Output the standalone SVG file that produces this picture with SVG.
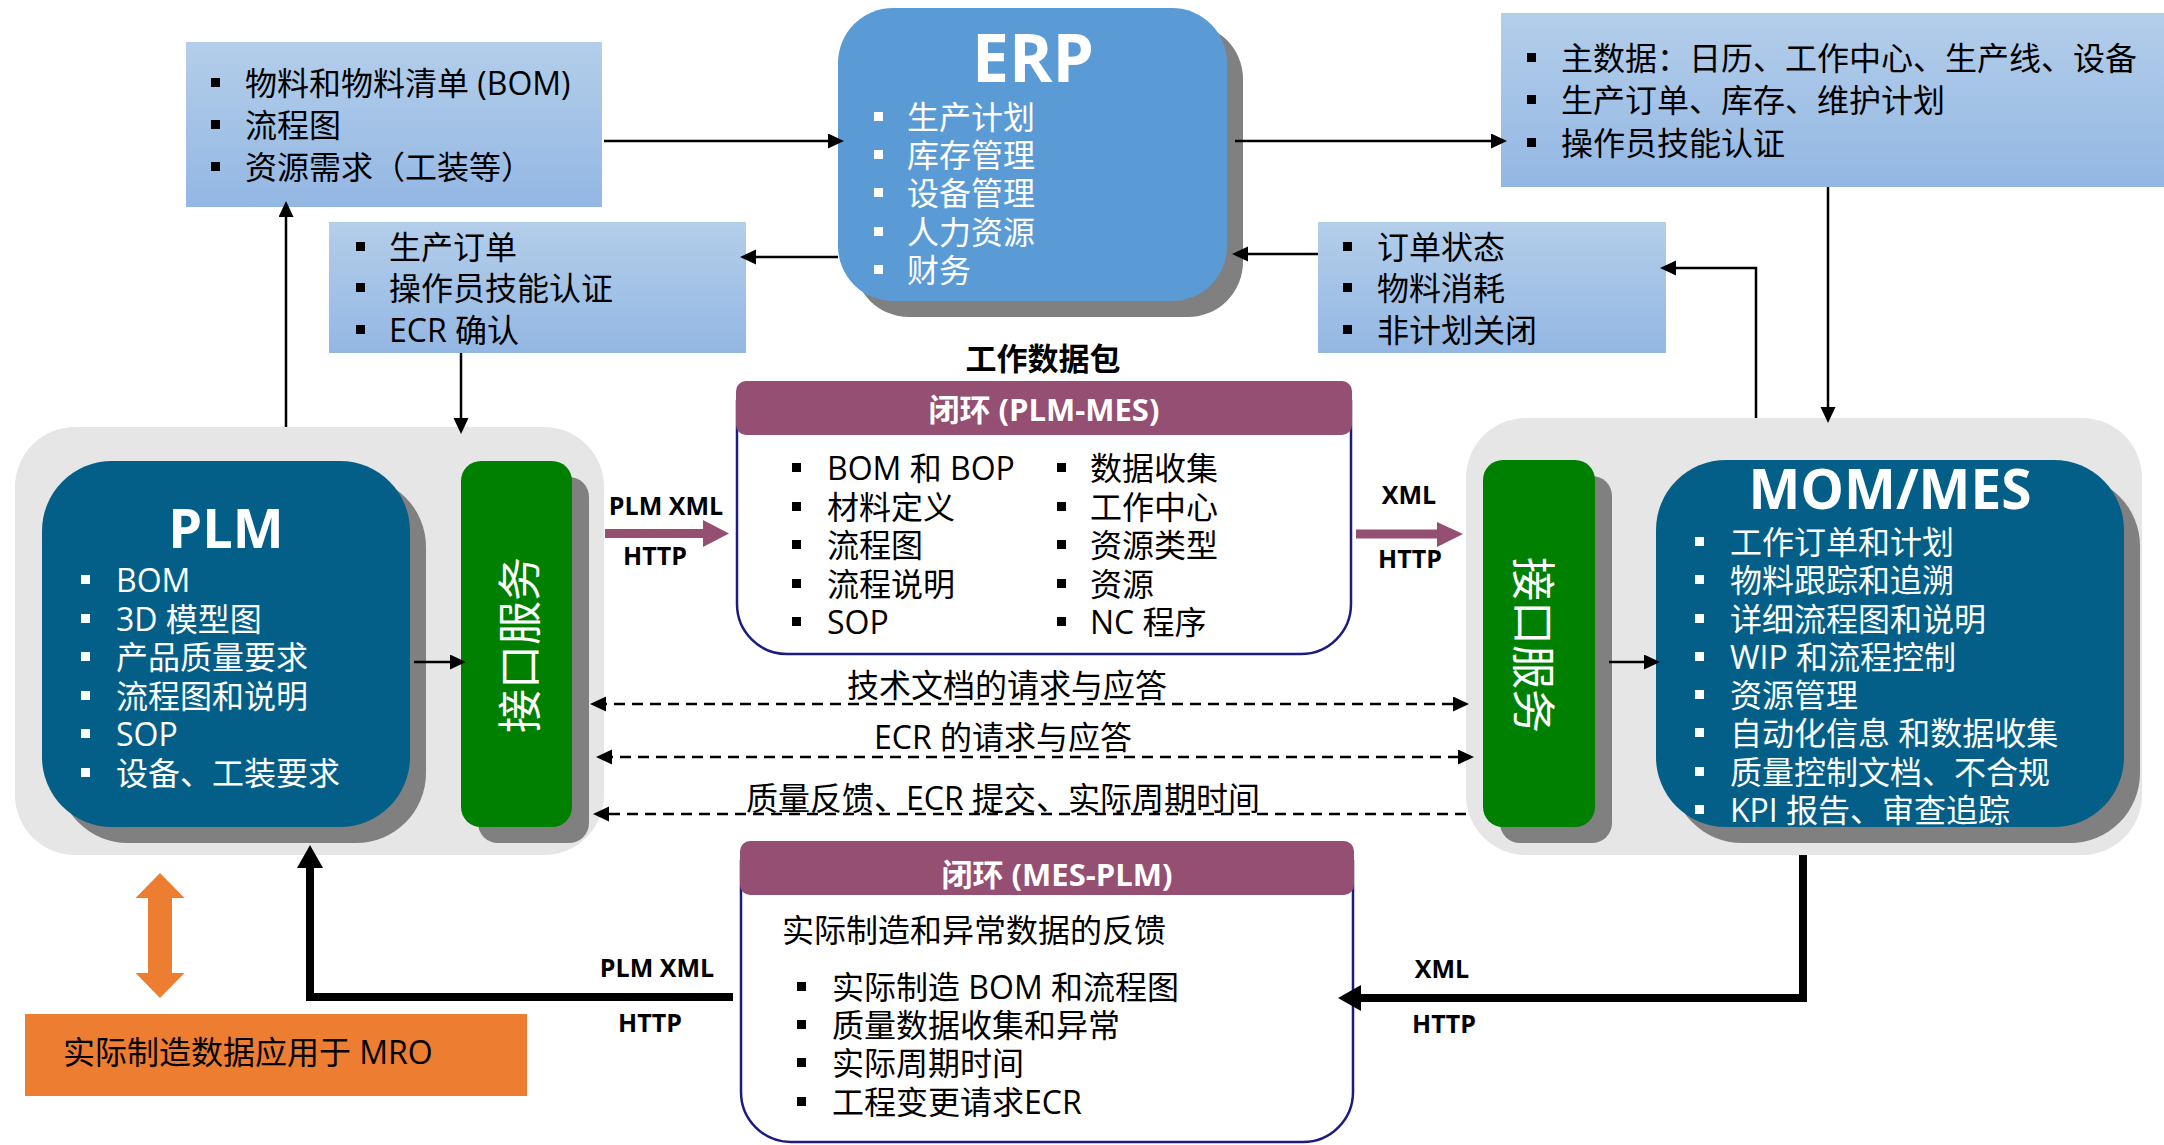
<svg xmlns="http://www.w3.org/2000/svg" width="2164" height="1145" viewBox="0 0 2164 1145">
<defs>
  <linearGradient id="lb" x1="0" y1="0" x2="0" y2="1">
    <stop offset="0" stop-color="#B4CEEA"/>
    <stop offset="1" stop-color="#93B7E3"/>
  </linearGradient>
  <marker id="ah" markerUnits="userSpaceOnUse" markerWidth="17" markerHeight="16" refX="10" refY="7.5" orient="auto-start-reverse">
    <path d="M0,0 L16,7.5 L0,15 z" fill="#000"/>
  </marker>
  <marker id="aht" markerUnits="userSpaceOnUse" markerWidth="24" markerHeight="27" refX="11" refY="13" orient="auto">
    <path d="M0,0 L23,13 L0,26 z" fill="#000"/>
  </marker>
</defs>
<style>
  .t{font-family:"Open Sans","Noto Sans CJK SC",sans-serif;font-size:32px;fill:#000}
  .w{fill:#fff}
  .ttl{font-family:"Open Sans","Noto Sans CJK SC",sans-serif;font-weight:bold;fill:#fff;text-anchor:middle}
  .hd{font-family:"Open Sans","Noto Sans CJK SC",sans-serif;font-weight:bold;font-size:31px;fill:#fff;text-anchor:middle}
  .lbl{font-family:"Open Sans","Noto Sans CJK SC",sans-serif;font-weight:bold;font-size:25px;fill:#000;text-anchor:middle}
  .pkt{font-family:"Noto Sans CJK SC",sans-serif;font-weight:bold;font-size:31px;fill:#000;text-anchor:middle}
  .mid{text-anchor:middle}
  .ln{stroke:#000;stroke-width:2.5;fill:none}
  .dash{stroke-dasharray:11 7}
  .thick{stroke:#000;stroke-width:8;fill:none}
  .bk{fill:#000}
  .bw{fill:#fff}
  .sh{fill:#808080}
  .cont{fill:#E6E6E6}
  .dark{fill:#045F88}
  .green{fill:#008000}
  .lblue{fill:url(#lb)}
  .hdr{fill:#944F72}
  .pkg{fill:#fff;stroke:#1B1B80;stroke-width:2.5}
  .vt{font-family:"Noto Sans CJK SC",sans-serif;font-size:44px;fill:#fff;text-anchor:middle;dominant-baseline:central}
</style>

<!-- containers -->
<g id="container-plm">
  <rect class="cont" x="15" y="427" width="589" height="428" rx="60"/>
</g>
<g id="container-mom">
  <rect class="cont" x="1466" y="418" width="676" height="437" rx="60"/>
</g>

<!-- ERP -->
<g id="node-erp">
  <rect class="sh" x="854" y="24" width="389" height="293" rx="55"/>
  <rect x="838" y="8" width="389" height="293" rx="55" fill="#5B9BD5"/>
  <text class="ttl" x="1033" y="82" font-size="66">ERP</text>
  <rect class="bw" x="874" y="112" width="9" height="9"/>
  <rect class="bw" x="874" y="150" width="9" height="9"/>
  <rect class="bw" x="874" y="188" width="9" height="9"/>
  <rect class="bw" x="874" y="227" width="9" height="9"/>
  <rect class="bw" x="874" y="265" width="9" height="9"/>
  <text class="t w" x="907" y="129">生产计划</text>
  <text class="t w" x="907" y="167">库存管理</text>
  <text class="t w" x="907" y="205">设备管理</text>
  <text class="t w" x="907" y="244">人力资源</text>
  <text class="t w" x="907" y="282">财务</text>
</g>

<!-- top-left box -->
<g id="node-plm-to-erp">
  <rect class="lblue" x="186" y="42" width="416" height="165"/>
  <rect class="bk" x="211" y="78" width="9" height="9"/>
  <rect class="bk" x="211" y="120" width="9" height="9"/>
  <rect class="bk" x="211" y="162" width="9" height="9"/>
  <text class="t" x="245" y="95">物料和物料清单 (BOM)</text>
  <text class="t" x="245" y="137">流程图</text>
  <text class="t" x="245" y="179">资源需求（工装等）</text>
</g>

<!-- top-right box -->
<g id="node-erp-to-mes">
  <rect class="lblue" x="1501" y="13" width="663" height="174"/>
  <rect class="bk" x="1527" y="53" width="9" height="9"/>
  <rect class="bk" x="1527" y="95" width="9" height="9"/>
  <rect class="bk" x="1527" y="138" width="9" height="9"/>
  <text class="t" x="1561" y="70">主数据：日历、工作中心、生产线、设备</text>
  <text class="t" x="1561" y="112">生产订单、库存、维护计划</text>
  <text class="t" x="1561" y="155">操作员技能认证</text>
</g>

<!-- middle-left box -->
<g id="node-erp-to-plm">
  <rect class="lblue" x="329" y="222" width="417" height="131"/>
  <rect class="bk" x="356" y="242" width="9" height="9"/>
  <rect class="bk" x="356" y="283" width="9" height="9"/>
  <rect class="bk" x="356" y="325" width="9" height="9"/>
  <text class="t" x="389" y="259">生产订单</text>
  <text class="t" x="389" y="300">操作员技能认证</text>
  <text class="t" x="389" y="342">ECR 确认</text>
</g>

<!-- middle-right box -->
<g id="node-mes-to-erp">
  <rect class="lblue" x="1318" y="222" width="348" height="131"/>
  <rect class="bk" x="1343" y="242" width="9" height="9"/>
  <rect class="bk" x="1343" y="283" width="9" height="9"/>
  <rect class="bk" x="1343" y="325" width="9" height="9"/>
  <text class="t" x="1377" y="259">订单状态</text>
  <text class="t" x="1377" y="300">物料消耗</text>
  <text class="t" x="1377" y="342">非计划关闭</text>
</g>

<!-- PLM -->
<g id="node-plm">
  <rect class="sh" x="58" y="477" width="368" height="366" rx="70"/>
  <rect class="dark" x="42" y="461" width="368" height="366" rx="70"/>
  <text class="ttl" x="226" y="548" font-size="54">PLM</text>
  <rect class="bw" x="81" y="575" width="9" height="9"/>
  <rect class="bw" x="81" y="614" width="9" height="9"/>
  <rect class="bw" x="81" y="652" width="9" height="9"/>
  <rect class="bw" x="81" y="691" width="9" height="9"/>
  <rect class="bw" x="81" y="729" width="9" height="9"/>
  <rect class="bw" x="81" y="768" width="9" height="9"/>
  <text class="t w" x="116" y="592">BOM</text>
  <text class="t w" x="116" y="631">3D 模型图</text>
  <text class="t w" x="116" y="669">产品质量要求</text>
  <text class="t w" x="116" y="708">流程图和说明</text>
  <text class="t w" x="116" y="746">SOP</text>
  <text class="t w" x="116" y="785">设备、工装要求</text>
</g>

<!-- PLM interface -->
<g id="node-plm-interface">
  <rect class="sh" x="478" y="477" width="111" height="366" rx="20"/>
  <rect class="green" x="461" y="461" width="111" height="366" rx="20"/>
  <text class="vt" transform="translate(517,645) rotate(-90)">接口服务</text>
</g>

<!-- MES interface -->
<g id="node-mes-interface">
  <rect class="sh" x="1500" y="476" width="112" height="367" rx="20"/>
  <rect class="green" x="1483" y="460" width="112" height="367" rx="20"/>
  <text class="vt" transform="translate(1536,645) rotate(90)">接口服务</text>
</g>

<!-- MOM/MES -->
<g id="node-mom">
  <rect class="sh" x="1672" y="476" width="468" height="367" rx="70"/>
  <rect class="dark" x="1656" y="460" width="468" height="367" rx="70"/>
  <text class="ttl" x="1890" y="509" font-size="55">MOM/MES</text>
  <rect class="bw" x="1695" y="537" width="9" height="9"/>
  <rect class="bw" x="1695" y="575" width="9" height="9"/>
  <rect class="bw" x="1695" y="614" width="9" height="9"/>
  <rect class="bw" x="1695" y="652" width="9" height="9"/>
  <rect class="bw" x="1695" y="690" width="9" height="9"/>
  <rect class="bw" x="1695" y="728" width="9" height="9"/>
  <rect class="bw" x="1695" y="767" width="9" height="9"/>
  <rect class="bw" x="1695" y="805" width="9" height="9"/>
  <text class="t w" x="1730" y="554">工作订单和计划</text>
  <text class="t w" x="1730" y="592">物料跟踪和追溯</text>
  <text class="t w" x="1730" y="631">详细流程图和说明</text>
  <text class="t w" x="1730" y="669">WIP 和流程控制</text>
  <text class="t w" x="1730" y="707">资源管理</text>
  <text class="t w" x="1730" y="745">自动化信息 和数据收集</text>
  <text class="t w" x="1730" y="784">质量控制文档、不合规</text>
  <text class="t w" x="1730" y="822">KPI 报告、审查追踪</text>
</g>

<!-- Work package PLM-MES -->
<g id="node-pkg-plm-mes">
  <text class="pkt" x="1043" y="370">工作数据包</text>
  <path class="pkg" d="M737,400 V604 A50,50 0 0 0 787,654 H1301 A50,50 0 0 0 1351,604 V400"/>
  <rect class="hdr" x="736" y="381" width="616" height="54" rx="10"/>
  <text class="hd" x="1044" y="421">闭环 (PLM-MES)</text>
  <rect class="bk" x="792" y="463" width="9" height="9"/>
  <rect class="bk" x="792" y="502" width="9" height="9"/>
  <rect class="bk" x="792" y="540" width="9" height="9"/>
  <rect class="bk" x="792" y="579" width="9" height="9"/>
  <rect class="bk" x="792" y="617" width="9" height="9"/>
  <text class="t" x="827" y="480">BOM 和 BOP</text>
  <text class="t" x="827" y="519">材料定义</text>
  <text class="t" x="827" y="557">流程图</text>
  <text class="t" x="827" y="596">流程说明</text>
  <text class="t" x="827" y="634">SOP</text>
  <rect class="bk" x="1057" y="463" width="9" height="9"/>
  <rect class="bk" x="1057" y="502" width="9" height="9"/>
  <rect class="bk" x="1057" y="540" width="9" height="9"/>
  <rect class="bk" x="1057" y="579" width="9" height="9"/>
  <rect class="bk" x="1057" y="617" width="9" height="9"/>
  <text class="t" x="1090" y="480">数据收集</text>
  <text class="t" x="1090" y="519">工作中心</text>
  <text class="t" x="1090" y="557">资源类型</text>
  <text class="t" x="1090" y="596">资源</text>
  <text class="t" x="1090" y="634">NC 程序</text>
</g>

<!-- Closed loop MES-PLM -->
<g id="node-pkg-mes-plm">
  <path class="pkg" d="M741,860 V1092 A50,50 0 0 0 791,1142 H1303 A50,50 0 0 0 1353,1092 V860"/>
  <rect class="hdr" x="740" y="841" width="614" height="54" rx="10"/>
  <text class="hd" x="1057" y="886">闭环 (MES-PLM)</text>
  <text class="t" x="782" y="942">实际制造和异常数据的反馈</text>
  <rect class="bk" x="797" y="982" width="9" height="9"/>
  <rect class="bk" x="797" y="1020" width="9" height="9"/>
  <rect class="bk" x="797" y="1058" width="9" height="9"/>
  <rect class="bk" x="797" y="1097" width="9" height="9"/>
  <text class="t" x="832" y="999">实际制造 BOM 和流程图</text>
  <text class="t" x="832" y="1037">质量数据收集和异常</text>
  <text class="t" x="832" y="1075">实际周期时间</text>
  <text class="t" x="832" y="1114">工程变更请求ECR</text>
</g>

<!-- MRO -->
<g id="node-mro">
  <rect x="25" y="1014" width="502" height="82" fill="#ED7D31"/>
  <text class="t" x="63" y="1064">实际制造数据应用于 MRO</text>
</g>

<!-- connectors -->
<g id="connectors">
  <line class="ln" x1="604" y1="141" x2="838" y2="141" marker-end="url(#ah)"/>
  <line class="ln" x1="1235" y1="141" x2="1501" y2="141" marker-end="url(#ah)"/>
  <line class="ln" x1="838" y1="257" x2="746" y2="257" marker-end="url(#ah)"/>
  <line class="ln" x1="1318" y1="254" x2="1238" y2="254" marker-end="url(#ah)"/>
  <polyline class="ln" points="1756,418 1756,268 1666,268" marker-end="url(#ah)"/>
  <line class="ln" x1="1828" y1="187" x2="1828" y2="417" marker-end="url(#ah)"/>
  <line class="ln" x1="286" y1="427" x2="286" y2="207" marker-end="url(#ah)"/>
  <line class="ln" x1="461" y1="353" x2="461" y2="428" marker-end="url(#ah)"/>
  <line class="ln" x1="414" y1="662" x2="460" y2="662" marker-end="url(#ah)"/>
  <line class="ln" x1="1609" y1="662" x2="1654" y2="662" marker-end="url(#ah)"/>

  <line class="ln dash" x1="596" y1="704" x2="1463" y2="704" marker-start="url(#ah)" marker-end="url(#ah)"/>
  <line class="ln dash" x1="602" y1="757" x2="1468" y2="757" marker-start="url(#ah)" marker-end="url(#ah)"/>
  <line class="ln dash" x1="1466" y1="814" x2="599" y2="814" marker-end="url(#ah)"/>
  <text class="t mid" x="1007" y="697">技术文档的请求与应答</text>
  <text class="t mid" x="1003" y="749">ECR 的请求与应答</text>
  <text class="t mid" x="1003" y="810">质量反馈、ECR 提交、实际周期时间</text>

  <polygon points="605,529 703,529 703,520 729,533.5 703,547 703,538 605,538" fill="#944F72"/>
  <text class="lbl" x="666" y="515">PLM XML</text>
  <text class="lbl" x="655" y="565">HTTP</text>
  <polygon points="1356,529.5 1437,529.5 1437,522 1463,534 1437,547 1437,538.5 1356,538.5" fill="#944F72"/>
  <text class="lbl" x="1409" y="504">XML</text>
  <text class="lbl" x="1410" y="568">HTTP</text>

  <polyline class="thick" points="1803,855 1803,998 1350,998" marker-end="url(#aht)"/>
  <text class="lbl" x="1442" y="978">XML</text>
  <text class="lbl" x="1444" y="1033">HTTP</text>
  <polyline class="thick" points="733,997 310,997 310,857" marker-end="url(#aht)"/>
  <text class="lbl" x="657" y="977">PLM XML</text>
  <text class="lbl" x="650" y="1032">HTTP</text>

  <polygon points="160,873 184.5,898 172,898 172,973 184.5,973 160,998 135.5,973 148,973 148,898 135.5,898" fill="#ED7D31"/>
</g>
</svg>
